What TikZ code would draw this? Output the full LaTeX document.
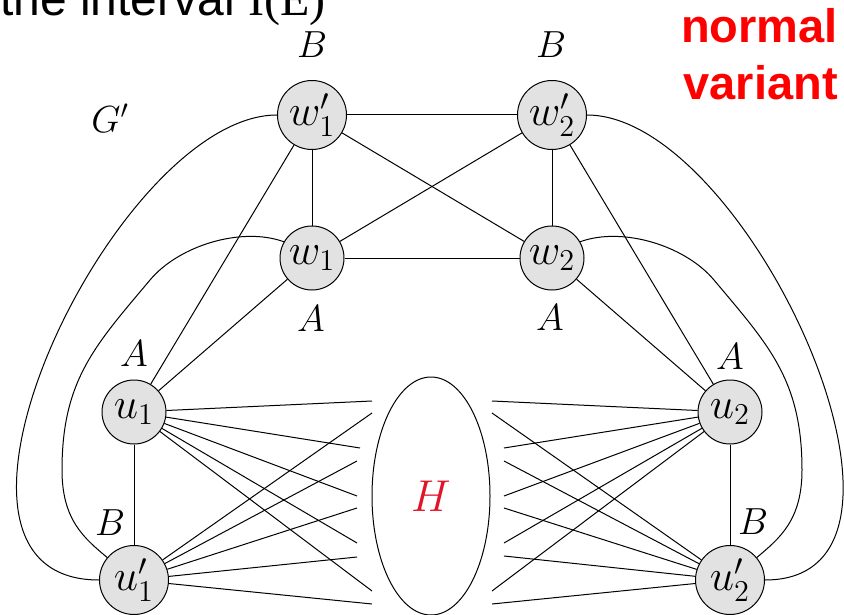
\documentclass[tikz,border=0pt]{standalone}
\usepackage{fontspec}
\usepackage{graphicx}
\usetikzlibrary{shapes.geometric}
\newfontfamily\arialfont{Liberation Sans}
\newfontfamily\timesfont{Liberation Serif}
\definecolor{vfill}{RGB}{226,226,226}
\definecolor{hred}{RGB}{225,20,40}
\newcommand{\VT}[1]{\scalebox{2.1}{\huge$#1$}}
\newcommand{\LB}[1]{\scalebox{1.82}{\huge$#1$}}
\tikzset{
  vtx/.style={circle,draw,fill=vfill,line width=1pt,inner sep=0pt,minimum size=64pt},
  vtxp/.style={vtx,minimum size=69pt},
  lbl/.style={inner sep=0pt},
  edge/.style={line width=1pt,black},
  redtxt/.style={anchor=base east,inner sep=0pt,text=red,font=\arialfont\bfseries\fontsize{47}{50}\selectfont}
}
\begin{document}
\begin{tikzpicture}[x=1pt,y=1pt]
\useasboundingbox (0,0) rectangle (844,-615);
\fill[white] (0,0) rectangle (844,-615);

% title fragments
\node[anchor=base west,inner sep=0pt,font=\arialfont\fontsize{48}{50}\selectfont] (title) at (0,-16) {the interval {\timesfont I(E)}};
\node[redtxt] (nrm) at (838,-43) {normal};
\node[redtxt] (var) at (838,-100) {variant};

% H ellipse
\node[draw,ellipse,line width=1pt,inner sep=0pt,minimum width=118pt,minimum height=238pt,text=hred] (H) at (431,-496) {\scalebox{2.15}{\huge$H$}};

% vertices
\node[vtxp] (w1p) at (312,-115) {\VT{w_1'}};
\node[vtxp] (w2p) at (552,-115) {\VT{w_2'}};
\node[vtx] (w1) at (312,-258) {\VT{w_1}};
\node[vtx] (w2) at (552,-258) {\VT{w_2}};
\node[vtx] (u1) at (134,-412) {\VT{u_1}};
\node[vtx] (u2) at (730,-412) {\VT{u_2}};
\node[vtxp] (u1p) at (134,-580) {\VT{u_1'}};
\node[vtxp] (u2p) at (730,-580) {\VT{u_2'}};

% labels
\node[lbl] (lB1) at (312,-45) {\LB{B}};
\node[lbl] (lB2) at (551,-45) {\LB{B}};
\node[lbl] (lA1) at (311,-319) {\LB{A}};
\node[lbl] (lA2) at (550,-318) {\LB{A}};
\node[lbl] (lA3) at (134,-354) {\LB{A}};
\node[lbl] (lA4) at (730,-357) {\LB{A}};
\node[lbl] (lB3) at (110,-523) {\LB{B}};
\node[lbl] (lB4) at (753,-522) {\LB{B}};
\node[lbl] (lG) at (110,-118) {\LB{G'}};

% top structure
\draw[edge] (w1p) -- (w2p);
\draw[edge] (w1p) -- (w1);
\draw[edge] (w2p) -- (w2);
\draw[edge] (w1) -- (w2);
\draw[edge] (w1p) -- (w2);
\draw[edge] (w1) -- (w2p);
\draw[edge] (w1p) -- (u1);
\draw[edge] (w1) -- (u1);
\draw[edge] (w2p) -- (u2);
\draw[edge] (w2) -- (u2);
\draw[edge] (u1) -- (u1p);
\draw[edge] (u2) -- (u2p);

% outer curves
\draw[edge] (w1p.west) .. controls +(-161,0) and +(-205,0) .. (u1p.west);
\draw[edge] (w2p.east) .. controls +(161,0) and +(195,0) .. (u2p.east);

% second curves
\coordinate (cL0) at (150,-280);
\coordinate (cL) at (62,-470);
\coordinate (cR0) at (714,-280);
\coordinate (cR) at (802,-470);
\draw[edge] (w1.150) .. controls +(160:45) and +(50:45) .. (cL0)
  .. controls +(230:85) and +(90:90) .. (cL)
  .. controls +(-90:50) and +(140:30) .. (u1p.140);
\draw[edge] (w2.30) .. controls +(20:45) and +(130:45) .. (cR0)
  .. controls +(-50:85) and +(90:90) .. (cR)
  .. controls +(-90:50) and +(40:30) .. (u2p.40);

% fan lines to H (left)
\coordinate (hl1) at (372,-401);
\coordinate (hl2) at (372,-413);
\coordinate (hl3) at (360,-448);
\coordinate (hl4) at (357,-461);
\coordinate (hl5) at (357,-496);
\coordinate (hl6) at (357,-508);
\coordinate (hl7) at (357,-543);
\coordinate (hl8) at (357,-557);
\coordinate (hl9) at (372,-591);
\coordinate (hl10) at (372,-604);
\foreach \e in {hl1,hl3,hl5,hl7,hl9} \draw[edge] (u1) -- (\e);
\foreach \e in {hl2,hl4,hl6,hl8,hl10} \draw[edge] (u1p) -- (\e);

% fan lines to H (right)
\coordinate (hr1) at (492,-401);
\coordinate (hr2) at (492,-413);
\coordinate (hr3) at (504,-448);
\coordinate (hr4) at (504,-461);
\coordinate (hr5) at (504,-496);
\coordinate (hr6) at (504,-508);
\coordinate (hr7) at (504,-543);
\coordinate (hr8) at (504,-556);
\coordinate (hr9) at (492,-591);
\coordinate (hr10) at (492,-604);
\foreach \e in {hr1,hr3,hr5,hr7,hr9} \draw[edge] (u2) -- (\e);
\foreach \e in {hr2,hr4,hr6,hr8,hr10} \draw[edge] (u2p) -- (\e);
\end{tikzpicture}
\end{document}
